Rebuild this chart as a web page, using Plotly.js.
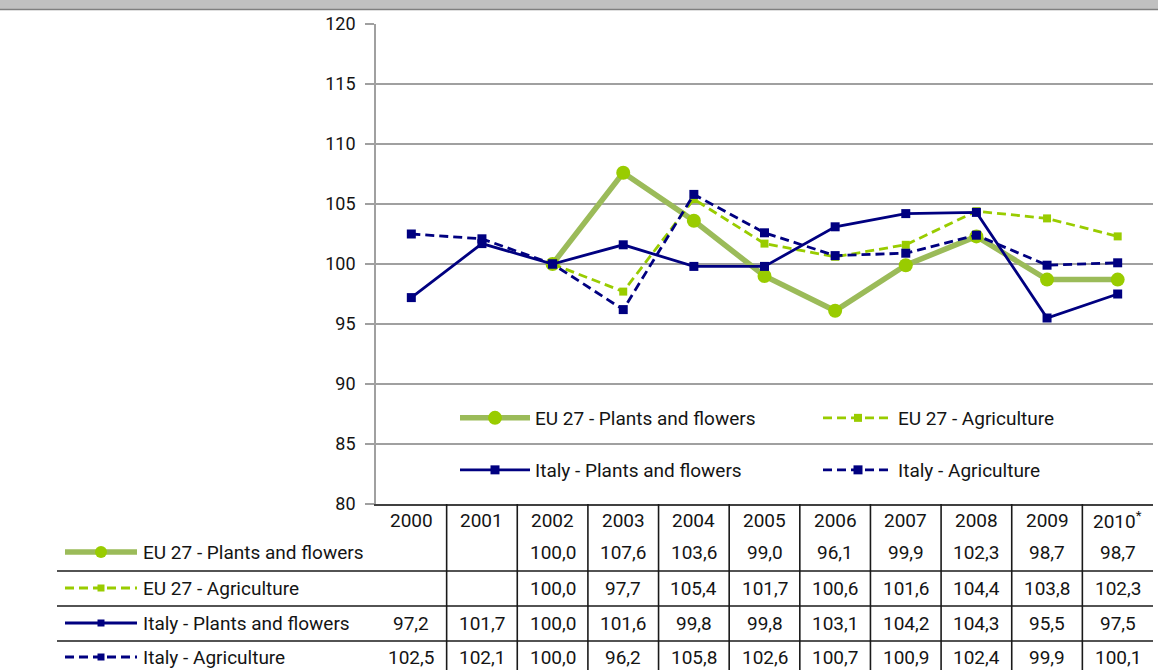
<!DOCTYPE html>
<html>
<head>
<meta charset="utf-8">
<script src="https://cdn.plot.ly/plotly-3.0.1.min.js"></script>
<style>
  html, body { margin: 0; padding: 0; background: #ffffff; }
  #chart { width: 1158px; height: 670px; }
</style>
</head>
<body>
<div id="chart"></div>
<script>
// ---------- DATA ----------
const years = ['2000', '2001', '2002', '2003', '2004', '2005', '2006', '2007', '2008', '2009', '2010*'];
const seriesNames = [
  'EU 27 - Plants and flowers',
  'EU 27 - Agriculture',
  'Italy - Plants and flowers',
  'Italy - Agriculture'
];
const euPlants    = [null, null, 100.0, 107.6, 103.6, 99.0, 96.1, 99.9, 102.3, 98.7, 98.7];
const euAgri      = [null, null, 100.0, 97.7, 105.4, 101.7, 100.6, 101.6, 104.4, 103.8, 102.3];
const italyPlants = [97.2, 101.7, 100.0, 101.6, 99.8, 99.8, 103.1, 104.2, 104.3, 95.5, 97.5];
const italyAgri   = [102.5, 102.1, 100.0, 96.2, 105.8, 102.6, 100.7, 100.9, 102.4, 99.9, 100.1];
const yTicks = [80, 85, 90, 95, 100, 105, 110, 115, 120];

// ---------- LAYOUT CONSTANTS ----------
const W = 1158, H = 670;
const M = { l: 376, r: 5, t: 24, b: 166 };
const plotW = W - M.l - M.r, plotH = H - M.t - M.b;
const xp = px => (px - M.l) / plotW;          // pixel -> paper x
const yp = py => (H - M.b - py) / plotH;      // pixel -> paper y
const FONT = 'Roboto, "Open Sans", sans-serif';
const TXT = '#141414';

const styles = [
  { line: { color: '#9bbb59', width: 5.5, dash: 'solid' }, marker: { symbol: 'circle', size: 14, color: '#99cc00' } },
  { line: { color: '#99cc00', width: 2.8, dash: '9px,5px' }, marker: { symbol: 'square', size: 8, color: '#99cc00' } },
  { line: { color: '#000080', width: 2.8, dash: 'solid' }, marker: { symbol: 'square', size: 9, color: '#000080' } },
  { line: { color: '#000080', width: 2.8, dash: '9px,5px' }, marker: { symbol: 'square', size: 9, color: '#000080' } }
];
const seriesValues = [euPlants, euAgri, italyPlants, italyAgri];
const legendOf = ['legend', 'legend', 'legend2', 'legend2'];

const traces = seriesValues.map((vals, i) => ({
  type: 'scatter',
  mode: 'lines+markers',
  name: seriesNames[i],
  x: years,
  y: vals,
  line: styles[i].line,
  marker: styles[i].marker,
  legend: legendOf[i],
  legendwidth: (i % 2 === 0) ? 278 : undefined,
  hoverinfo: 'x+y+name'
}));

// ---------- TABLE (annotations + shapes) ----------
const annotations = [];
const shapes = [];
const headerY = 520;
const rowY = [552, 588, 623, 657];
const rowLines = [571, 606, 641];
const fmt = v => (v === null ? '' : v.toFixed(1).replace('.', ','));

years.forEach((yr, i) => {
  annotations.push({
    xref: 'x', yref: 'paper', x: i, y: yp(headerY),
    text: yr.replace('*', '<sup>*</sup>'), showarrow: false,
    xanchor: 'center', yanchor: 'middle',
    font: { family: FONT, size: 19, color: TXT }
  });
});
seriesValues.forEach((vals, r) => {
  vals.forEach((v, i) => {
    if (v === null) return;
    annotations.push({
      xref: 'x', yref: 'paper', x: i, y: yp(rowY[r]),
      text: fmt(v), showarrow: false, xanchor: 'center', yanchor: 'middle',
      font: { family: FONT, size: 19, color: TXT }
    });
  });
  annotations.push({
    xref: 'paper', yref: 'paper', x: xp(141), y: yp(rowY[r]),
    text: seriesNames[r], showarrow: false, xanchor: 'left', yanchor: 'middle',
    font: { family: FONT, size: 19, color: TXT }
  });
  // legend key
  const st = styles[r];
  shapes.push({
    type: 'line', xref: 'paper', yref: 'paper',
    x0: xp(65), x1: xp(137), y0: yp(rowY[r]), y1: yp(rowY[r]),
    line: { color: st.line.color, width: st.line.width, dash: st.line.dash }
  });
  const half = st.marker.symbol === 'circle' ? 6 : 3.5;
  shapes.push({
    type: st.marker.symbol === 'circle' ? 'circle' : 'rect',
    xref: 'paper', yref: 'paper',
    x0: xp(101 - half), x1: xp(101 + half),
    y0: yp(rowY[r] + half), y1: yp(rowY[r] - half),
    fillcolor: st.marker.color, line: { width: 0 }
  });
});
// horizontal row separators
rowLines.forEach(py => shapes.push({
  type: 'line', xref: 'paper', yref: 'paper',
  x0: xp(57), x1: 1, y0: yp(py), y1: yp(py),
  line: { color: '#1a1a1a', width: 1.6 }
}));
// vertical column separators
for (let i = 0; i < years.length - 1; i++) {
  shapes.push({
    type: 'line', xref: 'x', yref: 'paper',
    x0: i + 0.5, x1: i + 0.5, y0: 0, y1: yp(H + 2),
    line: { color: '#1a1a1a', width: 1.6 }
  });
}
// top gray band
shapes.push({
  type: 'rect', xref: 'paper', yref: 'paper',
  x0: xp(0), x1: xp(W), y0: yp(9), y1: yp(-2),
  fillcolor: '#c0c0c0', line: { width: 0 }
});
shapes.push({
  type: 'line', xref: 'paper', yref: 'paper',
  x0: xp(0), x1: xp(W), y0: yp(9.5), y1: yp(9.5),
  line: { color: '#7f7f7f', width: 1.5 }
});

const legendBase = {
  orientation: 'h', xanchor: 'left', yanchor: 'middle',
  x: xp(455), itemwidth: 70, bgcolor: 'rgba(0,0,0,0)', borderwidth: 0,
  font: { family: FONT, size: 19, color: TXT }, traceorder: 'normal'
};

const layout = {
  width: W, height: H,
  margin: M,
  paper_bgcolor: '#ffffff', plot_bgcolor: '#ffffff',
  font: { family: FONT, color: TXT },
  showlegend: true,
  legend: Object.assign({}, legendBase, { y: yp(418) }),
  legend2: Object.assign({}, legendBase, { y: yp(470) }),
  xaxis: {
    type: 'category', categoryarray: years, range: [-0.5, years.length - 0.5],
    showticklabels: false, ticks: '', showgrid: false, zeroline: false,
    showline: true, linecolor: '#404040', linewidth: 1.6, fixedrange: true
  },
  yaxis: {
    range: [80, 120], tickvals: yTicks, ticktext: yTicks.map(String),
    showgrid: true, gridcolor: '#a0a0a0', gridwidth: 1.6,
    zeroline: false, showline: true, linecolor: '#a0a0a0', linewidth: 1.6,
    ticks: 'outside', ticklen: 9, tickcolor: '#a0a0a0', tickwidth: 1.6,
    ticklabelstandoff: 6,
    tickfont: { family: FONT, size: 18, color: TXT }, fixedrange: true
  },
  shapes: shapes,
  annotations: annotations
};

Plotly.newPlot('chart', traces, layout, { displayModeBar: false, responsive: false });
</script>
</body>
</html>
